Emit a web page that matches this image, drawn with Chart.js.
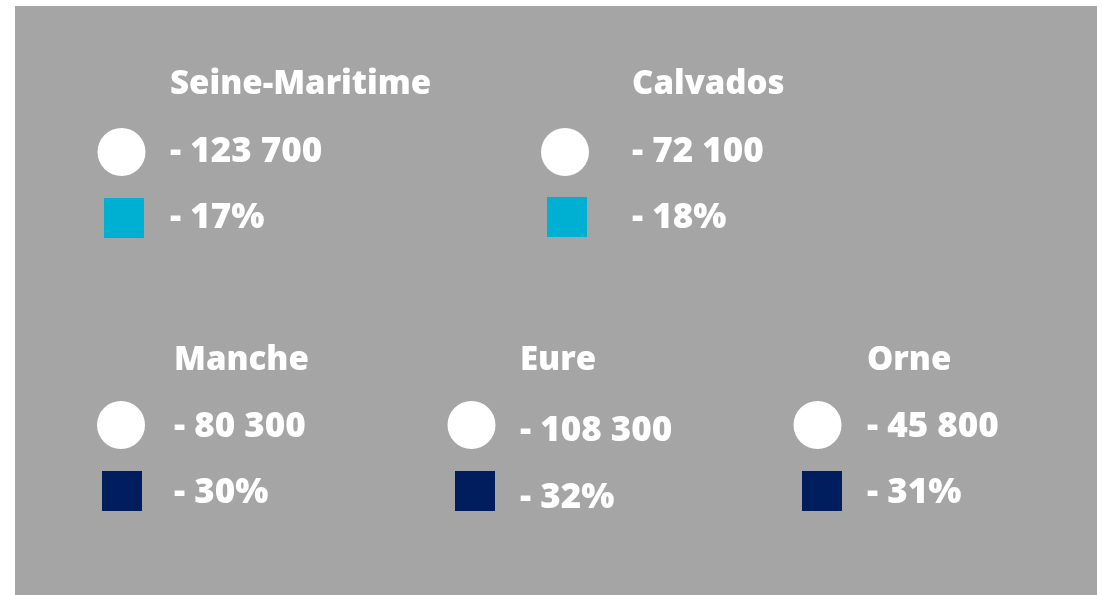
<!DOCTYPE html>
<html>
<head>
<meta charset="utf-8">
<script src="https://cdn.jsdelivr.net/npm/chart.js@4.4.1/dist/chart.umd.min.js"></script>
<style>
  html, body { margin: 0; padding: 0; background: #ffffff; }
  #wrap { width: 1102px; height: 595px; position: relative; }
</style>
</head>
<body>
<div id="wrap"><canvas id="c" width="1102" height="595"></canvas></div>
<script>
// ---- data ----
const departments = ['Seine-Maritime', 'Calvados', 'Manche', 'Eure', 'Orne'];
const populationChange = [-123700, -72100, -80300, -108300, -45800];
const percentChange = [-17, -18, -30, -32, -31];
const groupIndex = [0, 0, 1, 1, 1];

// ---- layout (panel units, px from panel top-left) ----
const circleX = [106.5, 550, 106, 456.5, 802.5];
const circleY = [146, 146, 419, 419, 419];
const squareX = [109, 552, 107, 460, 807];
const squareY = [212, 211, 485, 485, 485];
const textX = [155, 617, 159, 505, 852];
const titleBase = [88, 88, 364, 364, 364];
const numberBase = [156, 156, 431, 435, 431];
const pctBase = [222, 222, 497, 502, 497];

// ---- styles ----
const groupColors = ['#00b0d3', '#001e5e'];
const panelColor = '#a5a5a5';
const TITLE_FONT = '800 33px "Open Sans"';
const VALUE_FONT = '800 35px "Open Sans"';

function fmtNumber(v) {
  const s = String(Math.abs(v)).replace(/\B(?=(\d{3})+(?!\d))/g, ' ');
  return (v < 0 ? '- ' : '') + s;
}
function fmtPct(v) {
  return (v < 0 ? '- ' : '') + Math.abs(v) + '%';
}

const panelPlugin = {
  id: 'panel',
  beforeDraw(chart) {
    const { ctx, chartArea: a } = chart;
    ctx.save();
    ctx.fillStyle = panelColor;
    ctx.fillRect(a.left, a.top, a.right - a.left, a.bottom - a.top);
    ctx.restore();
  }
};

const textPlugin = {
  id: 'labels',
  afterDatasetsDraw(chart) {
    const { ctx, scales: { x, y } } = chart;
    ctx.save();
    ctx.fillStyle = '#ffffff';
    ctx.textAlign = 'left';
    ctx.textBaseline = 'alphabetic';
    departments.forEach((d, i) => {
      const px = x.getPixelForValue(textX[i]);
      ctx.font = TITLE_FONT;
      ctx.fillText(d, px, y.getPixelForValue(titleBase[i]));
      ctx.font = VALUE_FONT;
      ctx.fillText(fmtNumber(populationChange[i]), px, y.getPixelForValue(numberBase[i]));
      ctx.fillText(fmtPct(percentChange[i]), px, y.getPixelForValue(pctBase[i]));
    });
    ctx.restore();
  }
};

new Chart(document.getElementById('c'), {
  type: 'scatter',
  data: {
    datasets: [
      {
        label: 'Population',
        data: departments.map((d, i) => ({ x: circleX[i], y: circleY[i] })),
        pointStyle: 'circle',
        pointRadius: 24,
        pointHoverRadius: 24,
        pointBackgroundColor: '#ffffff',
        pointBorderWidth: 0
      },
      {
        label: 'Pourcentage',
        data: departments.map((d, i) => ({ x: squareX[i], y: squareY[i] })),
        pointStyle: 'rect',
        pointRadius: 28.2843,
        pointHoverRadius: 28.2843,
        pointBackgroundColor: departments.map((d, i) => groupColors[groupIndex[i]]),
        pointBorderWidth: 0
      }
    ]
  },
  options: {
    responsive: false,
    animation: false,
    events: [],
    layout: { autoPadding: false, padding: { left: 15, top: 6, right: 5, bottom: 0 } },
    plugins: { legend: { display: false }, tooltip: { enabled: false } },
    scales: {
      x: { type: 'linear', min: 0, max: 1082, display: false },
      y: { type: 'linear', min: 0, max: 589, reverse: true, display: false }
    }
  },
  plugins: [panelPlugin, textPlugin]
});
</script>
</body>
</html>
